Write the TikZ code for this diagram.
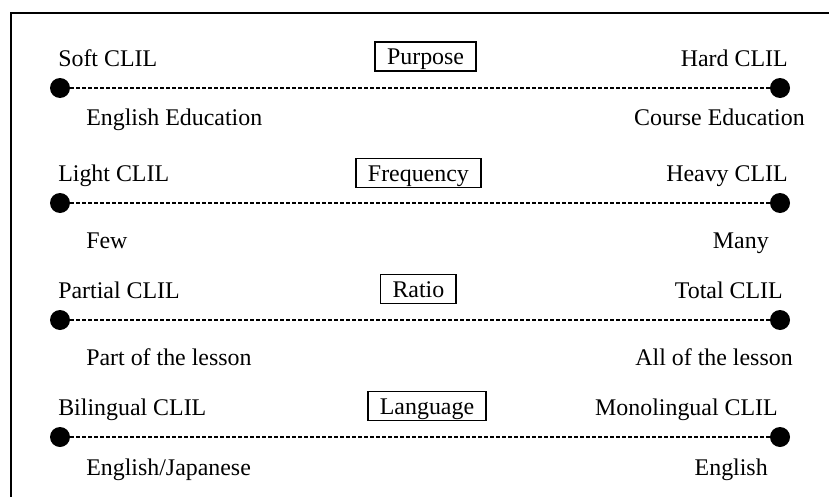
\documentclass[tikz,border=0pt]{standalone}
\usepackage{fontspec}
\setmainfont{Liberation Serif}
\tikzset{
  enddot/.style={circle, fill=black, inner sep=0pt, minimum size=0.5cm},
  axis/.style={line width=0.8pt, dash pattern=on 0.1cm off 0.05cm},
  headbox/.style={draw, line width=1.2pt, inner xsep=0.3cm, inner ysep=0.15cm, text height=0.42cm, text depth=0cm},
  lbl/.style={inner sep=0pt}
}
\begin{document}
\begin{tikzpicture}[every node/.style={font=\fontsize{17}{20}\selectfont}]
  \useasboundingbox (0,0) rectangle (20.725,12.4);
  \clip (0,0) rectangle (20.725,12.4);
  % frame, runs off the right and bottom edges
  \draw[line width=1.5pt] (0.27,-1) rectangle (22,12.07);
  % Purpose
  \node[enddot] (l1) at (1.5,10.2) {};
  \node[enddot] (r1) at (19.5,10.2) {};
  \draw[axis] (l1) -- (r1);
  \node[headbox] (h1) at (10.64,10.99) {Purpose};
  \node[lbl, anchor=base west] (lt1) at (1.45,10.75) {Soft CLIL};
  \node[lbl, anchor=base east] (rt1) at (19.7,10.75) {Hard CLIL};
  \node[lbl, anchor=base west] (lb1) at (2.15,9.275) {English Education};
  \node[lbl, anchor=base east] (rb1) at (20.125,9.275) {Course Education};
  % Frequency
  \node[enddot] (l2) at (1.5,7.325) {};
  \node[enddot] (r2) at (19.5,7.325) {};
  \draw[axis] (l2) -- (r2);
  \node[headbox] (h2) at (10.46,8.075) {Frequency};
  \node[lbl, anchor=base west] (lt2) at (1.45,7.875) {Light CLIL};
  \node[lbl, anchor=base east] (rt2) at (19.7,7.875) {Heavy CLIL};
  \node[lbl, anchor=base west] (lb2) at (2.15,6.2) {Few};
  \node[lbl, anchor=base east] (rb2) at (19.225,6.2) {Many};
  % Ratio
  \node[enddot] (l3) at (1.5,4.4) {};
  \node[enddot] (r3) at (19.5,4.4) {};
  \draw[axis] (l3) -- (r3);
  \node[headbox] (h3) at (10.46,5.175) {Ratio};
  \node[lbl, anchor=base west] (lt3) at (1.45,4.95) {Partial CLIL};
  \node[lbl, anchor=base east] (rt3) at (19.575,4.95) {Total CLIL};
  \node[lbl, anchor=base west] (lb3) at (2.15,3.275) {Part of the lesson};
  \node[lbl, anchor=base east] (rb3) at (19.825,3.275) {All of the lesson};
  % Language
  \node[enddot] (l4) at (1.5,1.475) {};
  \node[enddot] (r4) at (19.5,1.475) {};
  \draw[axis] (l4) -- (r4);
  \node[headbox] (h4) at (10.675,2.25) {Language};
  \node[lbl, anchor=base west] (lt4) at (1.45,2.025) {Bilingual CLIL};
  \node[lbl, anchor=base east] (rt4) at (19.45,2.025) {Monolingual CLIL};
  \node[lbl, anchor=base west] (lb4) at (2.15,0.525) {English/Japanese};
  \node[lbl, anchor=base east] (rb4) at (19.2,0.525) {English};
\end{tikzpicture}
\end{document}
